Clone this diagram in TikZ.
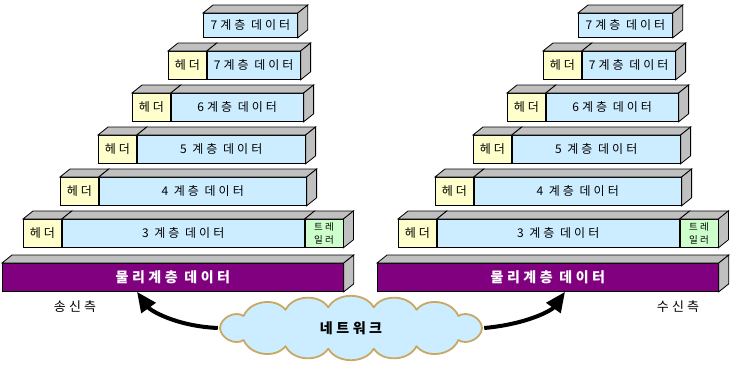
\documentclass[tikz,border=0pt]{standalone}
\usepackage{fontspec}
\newfontfamily\kr[LetterSpace=25]{Noto Sans CJK KR}
\usetikzlibrary{arrows.meta, positioning}
\definecolor{datblue}{HTML}{CCECFF}
\definecolor{hdryellow}{HTML}{FFFFCC}
\definecolor{trlgreen}{HTML}{CCFFCC}
\definecolor{sidegray}{HTML}{C0C0C0}
\definecolor{physpurple}{HTML}{800080}
\definecolor{cloudtan}{HTML}{C8A862}
\begin{document}
\begin{tikzpicture}[x=1pt, y=-1pt,
    font=\kr\fontsize{12}{14}\selectfont,
    cell/.style={draw, line width=0.8pt, inner sep=0pt, minimum height=28pt, anchor=north west},
    head/.style={cell, fill=hdryellow, minimum width=38pt},
    data/.style={cell, fill=datblue},
    tail/.style={cell, fill=trlgreen, minimum width=38pt, align=center,
        font=\kr\fontsize{9.5}{13}\selectfont},
    phys/.style={cell, fill=physpurple, text=white, minimum width=341pt,
        font=\kr\bfseries\fontsize{14}{16}\selectfont},
    face/.style={draw, line width=0.8pt, fill=sidegray},
    side label/.style={font=\kr\fontsize{13}{15}\selectfont},
    cloudline/.style={draw=cloudtan, fill=datblue, line width=1.8pt, line join=round},
    flow/.style={line width=4pt, -{Triangle[length=20pt, width=17pt]}},
    >=Stealth]
\useasboundingbox (0,0) rectangle (733,365);

% Sender and receiver stacks
\foreach \side/\xs in {s/0, r/375} {
\begin{scope}[xshift=\xs pt, name prefix=\side-]
\node[data, minimum width=94pt, minimum height=24pt] (a1) at (203,13) {7계층 데이터};
\node[head] (h2) at (168,51) {헤더};
\node[data, minimum width=93pt, right=0pt of h2] (a2) {7계층 데이터};
\node[head] (h3) at (132,93) {헤더};
\node[data, minimum width=132pt, right=0pt of h3] (a3) {6계층 데이터};
\node[head] (h4) at (98,135) {헤더};
\node[data, minimum width=168pt, right=0pt of h4] (a4) {5 계층 데이터};
\node[head] (h5) at (60,177) {헤더};
\node[data, minimum width=207pt, right=0pt of h5] (a5) {4 계층 데이터};
\node[head] (h6) at (23,219) {헤더};
\node[data, minimum width=242pt, right=0pt of h6] (a6) {3 계층 데이터};
\node[tail, right=0pt of a6] (t6) {트레\\일러};
\node[phys] (phys) at (2,263) {물리계층 데이터};
% depth faces
\foreach \n in {a1,h2,a2,h3,a3,h4,a4,h5,a5,h6,a6,t6,phys}
    \draw[face] (\n.north west) -- ++(10,-8) -- ([shift={(10,-8)}]\n.north east) -- (\n.north east) -- cycle;
\foreach \n in {a1,a2,a3,a4,a5,t6,phys}
    \draw[face] (\n.north east) -- ++(10,-8) -- ([shift={(10,-8)}]\n.south east) -- (\n.south east) -- cycle;
\end{scope}
}

% Labels
\node[side label] (send) at (75,307) {송신측};
\node[side label] (recv) at (678,307) {수신측};

% Network cloud and arrows
\coordinate (netc) at (351,328);
\draw[cloudline, shift={(netc)}] (0:131 and 21)
    \foreach \t in {35,60,80,100,120,145,180,215,240,260,280,300,325,360} { to[bend left=60] (\t:131 and 21) } -- cycle;
\node[minimum width=266pt, minimum height=60pt, inner sep=0pt,
    font=\kr\bfseries\fontsize{14}{16}\selectfont] (net) at (netc) {네트워크};
\coordinate (s-in) at ([xshift=135pt]s-phys.south west);
\coordinate (r-in) at ([xshift=188pt]r-phys.south west);
\draw[flow] (net.west) .. controls (175,326) and (150,310) .. (s-in);
\draw[flow] (net.east) .. controls (528,324) and (552,310) .. (r-in);
\end{tikzpicture}
\end{document}
